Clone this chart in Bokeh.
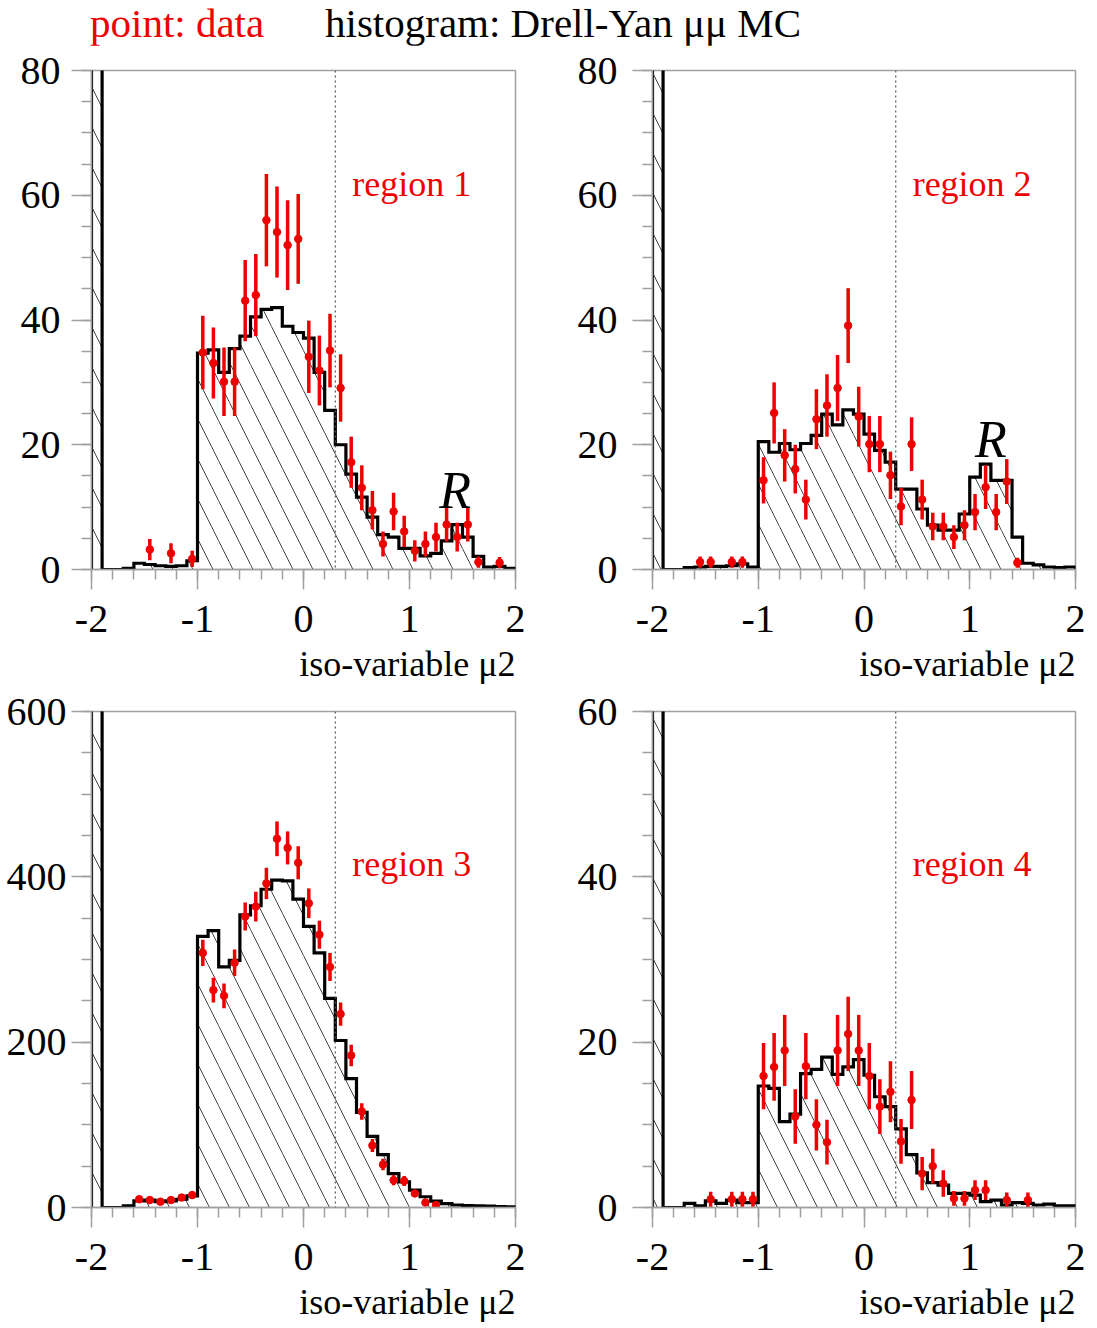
import numpy as np
from bokeh.plotting import figure
from bokeh.models import Span, Label, SingleIntervalTicker, Div, Title, PrintfTickFormatter
from bokeh.layouts import column, row
from bokeh.embed import file_html
from bokeh.resources import INLINE

# ---------------- data ----------------
bin_edges = np.linspace(-2.0, 2.0, 41)   # 40 bins of width 0.1

# region 1 : MC histogram (bins from -2.0 .. 2.0), first bin is off scale
r1_mc = [1000, 0, 0, 0.2, 1.0, 0.8, 0.6, 0.5, 0.6, 1.4,
         34.7, 35.2, 31.6, 35.4, 37.4, 40.5, 41.7, 42.0, 39.0, 38.0,
         37.1, 31.6, 25.5, 20.0, 15.3, 11.6, 8.4, 5.6, 5.2, 3.4,
         3.4, 2.2, 2.6, 4.6, 7.2, 5.2, 2.1, 0.4, 0.5, 0.2]
r1_x = [-1.45, -1.25, -1.05, -0.95, -0.85, -0.75, -0.65, -0.55, -0.45, -0.35,
        -0.25, -0.15, -0.05, 0.05, 0.15, 0.25, 0.35, 0.45, 0.55, 0.65,
        0.75, 0.85, 0.95, 1.05, 1.15, 1.25, 1.35, 1.45, 1.55, 1.65, 1.85]
r1_y = [3.2, 2.6, 1.7, 34.8, 33.1, 30.1, 30.1, 43.1, 44.0, 56.0,
        54.1, 52.0, 53.0, 34.1, 31.9, 35.1, 29.1, 17.2, 13.1, 9.5,
        4.1, 9.3, 6.1, 3.0, 4.1, 5.2, 7.2, 5.2, 7.2, 1.2, 1.1]
r1_err = [1.7, 1.6, 1.3, 5.9, 5.7, 5.5, 5.5, 6.5, 6.6, 7.4,
          7.3, 7.2, 7.2, 5.8, 5.6, 5.9, 5.4, 4.1, 3.6, 3.1,
          2.0, 3.0, 2.5, 1.7, 2.0, 2.3, 2.7, 2.3, 2.7, 0.9, 0.9]

# region 2
r2_mc = [1000, 0, 0, 0.3, 0.4, 0.5, 0.5, 0.6, 0.9, 0.4,
         20.5, 18.8, 20.2, 19.2, 20.2, 21.5, 24.9, 23.2, 25.6, 24.9,
         21.7, 19.1, 17.2, 12.9, 12.9, 9.7, 7.1, 6.3, 6.3, 8.9,
         14.8, 16.9, 14.3, 14.3, 5.2, 1.0, 0.75, 0.4, 0.3, 0.4]
r2_x = [-1.55, -1.45, -1.25, -1.15, -0.95, -0.85, -0.75, -0.65, -0.55, -0.45,
        -0.35, -0.25, -0.15, -0.05, 0.05, 0.15, 0.25, 0.35, 0.45, 0.55,
        0.65, 0.75, 0.85, 0.95, 1.05, 1.15, 1.25, 1.35, 1.45]
r2_y = [1.2, 1.2, 1.2, 1.2, 14.3, 25.1, 18.3, 16.1, 11.2, 24.1,
        26.3, 29.1, 39.1, 24.5, 20.1, 20.1, 15.1, 10.1, 20.1, 11.2,
        6.9, 6.9, 5.2, 7.1, 9.2, 13.2, 9.2, 14.1, 1.1]
r2_err = [0.9, 0.9, 0.9, 0.9, 3.7, 4.9, 4.2, 3.9, 3.2, 4.8,
          5.0, 5.3, 6.0, 4.8, 4.5, 4.5, 3.8, 3.0, 4.3, 3.2,
          2.2, 2.2, 1.9, 2.4, 2.9, 3.5, 2.9, 3.6, 0.8]

# region 3
r3_mc = [10000, 0, 0, 2, 8, 9, 7, 8, 10, 14,
         328, 335, 291, 299, 354, 365, 385, 396, 395, 373,
         340, 308, 253, 202, 156, 115, 86, 64, 41, 31,
         21, 13, 7.6, 4.8, 3.0, 2.4, 2.0, 1.6, 1.2, 0.8]
r3_x = [-1.55, -1.45, -1.35, -1.25, -1.15, -1.05, -0.95, -0.85, -0.75, -0.65,
        -0.55, -0.45, -0.35, -0.25, -0.15, -0.05, 0.05, 0.15, 0.25, 0.35,
        0.45, 0.55, 0.65, 0.75, 0.85, 0.95, 1.05, 1.15, 1.25]
r3_y = [10, 9, 7, 9, 12, 15, 308, 263, 256, 296,
        352, 364, 392, 446, 435, 417, 368, 330, 291, 234,
        184, 116, 75, 52, 33, 32, 17, 6, 3]
r3_err = [3, 3, 3, 3, 3.5, 4, 16, 15, 15, 16,
          17, 18, 19, 21, 20, 20, 18, 17, 17, 14,
          13, 10, 8, 7, 6, 6, 4, 2.5, 2]

# region 4
r4_mc = [1000, 0, 0, 0.5, 0.2, 0.8, 0.5, 0.9, 0.6, 0.6,
         14.7, 14.4, 10.4, 11.3, 16.2, 16.7, 18.2, 16.1, 17.0, 17.9,
         16.0, 13.4, 12.2, 9.5, 6.4, 4.2, 3.0, 2.7, 1.7, 1.7,
         1.5, 0.7, 0.9, 0.3, 0.6, 0.5, 0.3, 0.4, 0.2, 0.2]
r4_x = [-1.45, -1.25, -1.15, -1.05, -0.95, -0.85, -0.75, -0.65, -0.55, -0.45,
        -0.35, -0.25, -0.15, -0.05, 0.05, 0.15, 0.25, 0.35, 0.45, 0.55,
        0.65, 0.75, 0.85, 0.95, 1.05, 1.15, 1.35, 1.55]
r4_y = [1.0, 1.0, 1.0, 1.0, 15.9, 17.0, 19.0, 11.0, 17.1, 10.0,
        7.9, 19.0, 21.0, 19.0, 15.9, 12.2, 14.0, 8.0, 13.0, 4.1,
        5.0, 2.9, 1.1, 1.1, 2.1, 2.1, 0.9, 0.9]
r4_err = [0.9, 0.9, 0.9, 0.9, 4.0, 4.1, 4.3, 3.3, 4.0, 3.1,
          2.7, 4.3, 4.5, 4.3, 4.0, 3.3, 3.7, 2.7, 3.5, 2.0,
          2.1, 1.6, 0.9, 0.9, 1.2, 1.2, 0.9, 0.9]

x_tick_interval = 1
cut_position = 0.3

FONT = "Liberation Serif"
GRAY = "#a0a0a0"
RED = "#ee0000"


def make_panel(mc, dx, dy, derr, ymax, ymajor, label, label_y, r_pos,
               width, height, b_left, b_right, b_top, b_bottom, y_standoff):
    p = figure(width=width, height=height, x_range=(-2, 2), y_range=(0, ymax),
               output_backend="svg", toolbar_location=None,
               min_border_left=b_left, min_border_right=b_right,
               min_border_top=b_top, min_border_bottom=b_bottom)
    p.grid.visible = False
    p.outline_line_color = GRAY
    p.outline_line_width = 1.5
    p.background_fill_color = "white"
    p.border_fill_color = "white"

    mc = np.asarray(mc, dtype=float)
    lo = bin_edges[:-1]
    hi = bin_edges[1:]
    p.quad(left=lo, right=hi, bottom=0, top=mc, fill_alpha=0, line_alpha=0,
           hatch_pattern="left_diagonal_line", hatch_color="#444444",
           hatch_scale=40, hatch_weight=1)
    xs = np.repeat(bin_edges, 2)
    ys = np.concatenate([[0], np.repeat(mc, 2), [0]])
    p.line(xs, ys, line_width=3.2, line_color="black", line_join="miter")

    p.add_layout(Span(location=cut_position, dimension="height", line_color="#555555",
                      line_width=1.2, line_dash="2 3"))

    dx = np.asarray(dx, dtype=float)
    dy = np.asarray(dy, dtype=float)
    de = np.asarray(derr, dtype=float)
    p.segment(x0=dx, y0=dy - de, x1=dx, y1=dy + de, line_color=RED, line_width=3.5)
    p.scatter(dx, dy, size=7.5, color=RED)

    p.xaxis.ticker = SingleIntervalTicker(interval=x_tick_interval, num_minor_ticks=5)
    p.yaxis.ticker = SingleIntervalTicker(interval=ymajor, num_minor_ticks=4)
    for ax in (p.xaxis[0], p.yaxis[0]):
        ax.formatter = PrintfTickFormatter(format="%d")
        ax.axis_line_color = GRAY
        ax.axis_line_width = 1.5
        ax.major_tick_line_color = GRAY
        ax.major_tick_line_width = 1.5
        ax.minor_tick_line_color = GRAY
        ax.minor_tick_line_width = 1.5
        ax.major_tick_out = 20
        ax.major_tick_in = 0
        ax.minor_tick_out = 10
        ax.minor_tick_in = 0
        ax.major_label_text_font = FONT
        ax.major_label_text_font_size = "40px"
        ax.major_label_text_color = "black"
    p.xaxis.major_label_standoff = 16
    p.yaxis.major_label_standoff = y_standoff

    p.add_layout(Title(text="iso-variable \u03bc2", align="right",
                       text_font=FONT, text_font_size="36px",
                       text_font_style="normal", text_color="black",
                       standoff=14, offset=0), "below")
    p.add_layout(Label(x=0.46, y=label_y, text=label, text_align="left",
                       text_baseline="alphabetic", text_font=FONT,
                       text_font_size="36px", text_color=RED))
    if r_pos is not None:
        p.add_layout(Label(x=r_pos[0], y=r_pos[1], text="R", text_align="center",
                           text_baseline="alphabetic", text_font=FONT,
                           text_font_style="italic", text_font_size="52px",
                           text_color="black"))
    return p


p1 = make_panel(r1_mc, r1_x, r1_y, r1_err, 80, 20, "region 1", 61.75, (1.43, 12.7),
                548, 645, 91, 33, 25, 121, 11)
p2 = make_panel(r2_mc, r2_x, r2_y, r2_err, 80, 20, "region 2", 61.75, (1.20, 20.9),
                549, 645, 104, 22, 25, 121, 15)
p3 = make_panel(r3_mc, r3_x, r3_y, r3_err, 600, 200, "region 3", 415.5, None,
                548, 638, 91, 33, 21, 119, 5)
p4 = make_panel(r4_mc, r4_x, r4_y, r4_err, 60, 20, "region 4", 41.55, None,
                549, 638, 104, 22, 21, 119, 15)

header = Div(
    text=('<div style="position:relative;width:1097px;height:45px;'
          'font-family:\'Liberation Serif\',serif;font-size:41px;line-height:45px;'
          'white-space:nowrap;">'
          '<span style="position:absolute;left:90px;top:1px;color:#ee0000;">point: data</span>'
          '<span style="position:absolute;left:325px;top:1px;color:black;">'
          'histogram: Drell-Yan \u03bc\u03bc MC</span></div>'),
    width=1097, height=45, margin=(0, 0, 0, 0))

layout = column(header, row(p1, p2, spacing=0), row(p3, p4, spacing=0), spacing=0)

open("out.html", "w").write(file_html(layout, INLINE))
